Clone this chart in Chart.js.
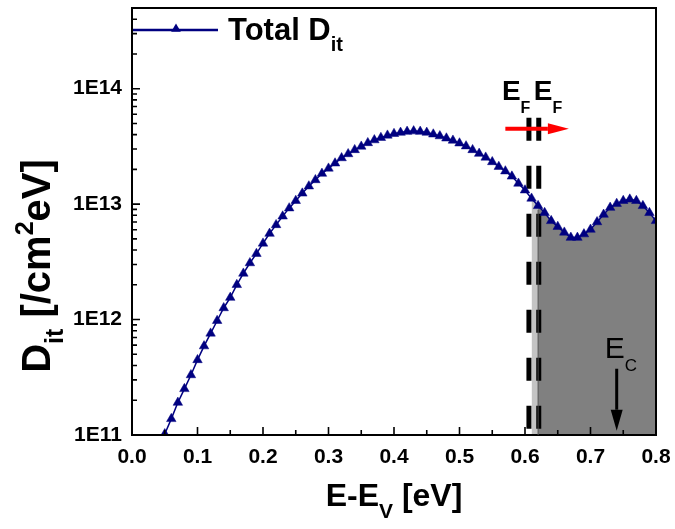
<!DOCTYPE html>
<html>
<head>
<meta charset="utf-8">
<script src="https://cdn.jsdelivr.net/npm/chart.js@4.4.1/dist/chart.umd.min.js"></script>
<style>
  html, body { margin: 0; padding: 0; background: #ffffff; }
  canvas { display: block; }
</style>
</head>
<body>
<canvas id="dit" width="675" height="529"></canvas>
<script>
// Interface trap density versus energy above the valence band edge
const energy = [
  0.04, 0.05, 0.06, 0.07, 0.08, 0.09, 0.10, 0.11, 0.12, 0.13,
  0.14, 0.15, 0.16, 0.17, 0.18, 0.19, 0.20, 0.21, 0.22, 0.23,
  0.24, 0.25, 0.26, 0.27, 0.28, 0.29, 0.30, 0.31, 0.32, 0.33,
  0.34, 0.35, 0.36, 0.37, 0.38, 0.39, 0.40, 0.41, 0.42, 0.43,
  0.44, 0.45, 0.46, 0.47, 0.48, 0.49, 0.50, 0.51, 0.52, 0.53,
  0.54, 0.55, 0.56, 0.57, 0.58, 0.59, 0.60, 0.61, 0.62, 0.63,
  0.64, 0.65, 0.66, 0.67, 0.68, 0.69, 0.70, 0.71, 0.72, 0.73,
  0.74, 0.75, 0.76, 0.77, 0.78, 0.79, 0.80
];
const totalDit = [
  7.6e10, 1.02e11, 1.38e11, 1.91e11, 2.51e11, 3.31e11, 4.47e11, 5.89e11, 7.59e11, 9.77e11,
  1.26e12, 1.55e12, 2.00e12, 2.51e12, 3.09e12, 3.72e12, 4.57e12, 5.56e12, 6.61e12, 7.85e12,
  9.23e12, 1.07e13, 1.24e13, 1.43e13, 1.62e13, 1.84e13, 2.04e13, 2.26e13, 2.51e13, 2.72e13,
  2.95e13, 3.16e13, 3.39e13, 3.59e13, 3.76e13, 3.94e13, 4.07e13, 4.17e13, 4.25e13, 4.29e13,
  4.25e13, 4.17e13, 4.03e13, 3.89e13, 3.72e13, 3.56e13, 3.37e13, 3.18e13, 2.95e13, 2.74e13,
  2.54e13, 2.32e13, 2.11e13, 1.93e13, 1.74e13, 1.51e13, 1.32e13, 1.12e13, 9.66e12, 8.41e12,
  7.16e12, 6.38e12, 5.69e12, 5.13e12, 5.13e12, 5.50e12, 6.03e12, 7.00e12, 8.13e12, 9.33e12,
  1.01e13, 1.07e13, 1.10e13, 1.07e13, 9.66e12, 8.41e12, 7.16e12
];

const xTickValues = [0.0, 0.1, 0.2, 0.3, 0.4, 0.5, 0.6, 0.7, 0.8];
const xMinorTicks = [0.05, 0.15, 0.25, 0.35, 0.45, 0.55, 0.65, 0.75];
const yTickValues = [1e11, 1e12, 1e13, 1e14];
const yMinorMantissas = [2, 3, 4, 5, 6, 7, 8, 9];
const xRange = [0, 0.8];
const yRange = [1e11, 5e14];

// Fermi level positions (dashed markers) and the shaded regions
const fermiLevels = [0.606, 0.621];
const fermiTop = 5.6e13;
const bandBetweenFermi = [0.61, 0.62];
const occupiedFrom = 0.62;
// Arrows: Fermi level shift and conduction band edge
const shiftArrow = { from: 0.570, to: 0.667, level: 4.5e13 };
const conductionBand = { at: 0.74, from: 3.75e11, to: 1.09e11 };

const NAVY = '#000080';
const FONT = '"Liberation Sans", Arial, Helvetica, sans-serif';

const curvePoints = energy.map((e, i) => ({ x: e, y: totalDit[i] }));
const bandPoints = curvePoints.filter(p => p.x >= bandBetweenFermi[0] - 1e-9 && p.x <= bandBetweenFermi[1] + 1e-9);
const occupiedPoints = curvePoints.filter(p => p.x >= occupiedFrom - 1e-9);

const fermiDatasets = fermiLevels.map(e => ({
  label: 'EF',
  data: [{ x: e, y: fermiTop }, { x: e, y: yRange[0] }],
  borderColor: '#000000',
  borderWidth: 5,
  borderDash: [23, 25],
  pointRadius: 0,
  fill: false,
  order: 2
}));

function richText(ctx, parts, x, y, align) {
  let total = 0;
  parts.forEach(p => { ctx.font = p.font; p.w = ctx.measureText(p.t).width; total += p.w; });
  let cx = align === 'center' ? x - total / 2 : x;
  ctx.textAlign = 'left';
  ctx.textBaseline = 'alphabetic';
  parts.forEach(p => { ctx.font = p.font; ctx.fillText(p.t, cx, y + (p.dy || 0)); cx += p.w; });
}

function arrow(ctx, x1, y1, x2, y2, width, headLen, headHalf, color) {
  const ang = Math.atan2(y2 - y1, x2 - x1);
  const bx = x2 - Math.cos(ang) * headLen, by = y2 - Math.sin(ang) * headLen;
  ctx.strokeStyle = color; ctx.fillStyle = color; ctx.lineWidth = width;
  ctx.beginPath(); ctx.moveTo(x1, y1); ctx.lineTo(bx, by); ctx.stroke();
  ctx.beginPath();
  ctx.moveTo(x2, y2);
  ctx.lineTo(bx + Math.sin(ang) * headHalf, by - Math.cos(ang) * headHalf);
  ctx.lineTo(bx - Math.sin(ang) * headHalf, by + Math.cos(ang) * headHalf);
  ctx.closePath(); ctx.fill();
}

const decorations = {
  id: 'decorations',
  afterDatasetsDraw(chart) {
    const ctx = chart.ctx, a = chart.chartArea;
    const xs = chart.scales.x, ys = chart.scales.y;
    ctx.save();
    // frame
    ctx.strokeStyle = '#000'; ctx.lineWidth = 2;
    ctx.strokeRect(a.left, a.top, a.right - a.left, a.bottom - a.top);
    // inward ticks
    ctx.lineWidth = 1.6;
    ctx.beginPath();
    xTickValues.forEach(v => { const px = xs.getPixelForValue(v); ctx.moveTo(px, a.bottom); ctx.lineTo(px, a.bottom - 8); });
    xMinorTicks.forEach(v => { const px = xs.getPixelForValue(v); ctx.moveTo(px, a.bottom); ctx.lineTo(px, a.bottom - 5); });
    yTickValues.forEach(v => {
      const py = ys.getPixelForValue(v); ctx.moveTo(a.left, py); ctx.lineTo(a.left + 8, py);
      yMinorMantissas.forEach(m => {
        const val = v * m;
        if (val <= yRange[1]) { const q = ys.getPixelForValue(val); ctx.moveTo(a.left, q); ctx.lineTo(a.left + 5, q); }
      });
    });
    ctx.stroke();

    // thin edge where the occupied region begins
    const occX = xs.getPixelForValue(occupiedFrom);
    ctx.strokeStyle = '#505050'; ctx.lineWidth = 1;
    ctx.beginPath();
    ctx.moveTo(occX, ys.getPixelForValue(occupiedPoints[0].y) + 4);
    ctx.lineTo(occX, a.bottom);
    ctx.stroke();

    // Fermi level shift arrow
    arrow(ctx, xs.getPixelForValue(shiftArrow.from), ys.getPixelForValue(shiftArrow.level),
          xs.getPixelForValue(shiftArrow.to), ys.getPixelForValue(shiftArrow.level), 4, 21, 5.5, '#ff0000');
    // conduction band arrow
    const cbx = xs.getPixelForValue(conductionBand.at);
    arrow(ctx, cbx, ys.getPixelForValue(conductionBand.from), cbx, ys.getPixelForValue(conductionBand.to), 3, 21, 6, '#000000');

    ctx.fillStyle = '#000';
    // E_F labels above the dashed markers
    const f0 = xs.getPixelForValue(fermiLevels[0]);
    const f1 = xs.getPixelForValue(fermiLevels[1]);
    richText(ctx, [{ t: 'E', font: 'bold 28px ' + FONT }, { t: 'F', font: 'bold 16px ' + FONT, dy: 13 }], f0 - 27, 100, 'left');
    richText(ctx, [{ t: 'E', font: 'bold 28px ' + FONT }, { t: 'F', font: 'bold 16px ' + FONT, dy: 13 }], f1 - 5, 100, 'left');
    // E_C label
    richText(ctx, [{ t: 'E', font: '30px ' + FONT }, { t: 'C', font: '17px ' + FONT, dy: 13 }], cbx - 12, 358, 'left');

    // legend
    const ly = a.top + 22;
    ctx.strokeStyle = NAVY; ctx.lineWidth = 2.5;
    ctx.beginPath(); ctx.moveTo(a.left + 1, ly); ctx.lineTo(a.left + 86, ly); ctx.stroke();
    ctx.fillStyle = NAVY;
    const tx = a.left + 44, r = 5.6;
    ctx.beginPath();
    for (let k = 0; k < 3; k++) {
      const ang = k * 2 * Math.PI / 3;
      const px = tx + Math.sin(ang) * r, py = ly - 1 - Math.cos(ang) * r;
      k === 0 ? ctx.moveTo(px, py) : ctx.lineTo(px, py);
    }
    ctx.closePath(); ctx.fill();
    ctx.fillStyle = '#000';
    richText(ctx, [{ t: 'Total D', font: 'bold 31px ' + FONT }, { t: 'it', font: 'bold 20px ' + FONT, dy: 11 }], a.left + 96, ly + 9.5, 'left');
    ctx.restore();
  },
  afterDraw(chart) {
    const ctx = chart.ctx, a = chart.chartArea;
    ctx.save();
    ctx.fillStyle = '#000';
    // x axis title
    richText(ctx, [
      { t: 'E-E', font: 'bold 32px ' + FONT },
      { t: 'V', font: 'bold 21px ' + FONT, dy: 12 },
      { t: ' [eV]', font: 'bold 32px ' + FONT }
    ], (a.left + a.right) / 2, 506, 'center');
    // y axis title
    ctx.translate(50, 266);
    ctx.rotate(-Math.PI / 2);
    richText(ctx, [
      { t: 'D', font: 'bold 40px ' + FONT },
      { t: 'it', font: 'bold 25px ' + FONT, dy: 13 },
      { t: ' [/cm', font: 'bold 40px ' + FONT },
      { t: '2', font: 'bold 25px ' + FONT, dy: -17 },
      { t: 'eV]', font: 'bold 40px ' + FONT }
    ], 0, 0, 'center');
    ctx.restore();
  }
};

// Keep the plot frame fixed: no extra room reserved for edge tick labels
function noEdgePadding(scale) {
  scale.paddingTop = 0; scale.paddingBottom = 0;
  scale.paddingLeft = 0; scale.paddingRight = 0;
}

new Chart(document.getElementById('dit'), {
  type: 'line',
  data: {
    datasets: [
      {
        label: 'Total Dit',
        data: curvePoints,
        borderColor: NAVY,
        borderWidth: 1.5,
        pointStyle: 'triangle',
        pointRadius: 5.5,
        pointBackgroundColor: NAVY,
        pointBorderColor: NAVY,
        pointBorderWidth: 0.5,
        tension: 0,
        fill: false,
        order: 1
      },
      ...fermiDatasets,
      {
        label: 'between',
        data: bandPoints,
        borderWidth: 0,
        pointRadius: 0,
        backgroundColor: '#c4c4c4',
        fill: 'start',
        order: 4
      },
      {
        label: 'occupied',
        data: occupiedPoints,
        borderWidth: 0,
        pointRadius: 0,
        backgroundColor: '#808080',
        fill: 'start',
        order: 3
      }
    ]
  },
  options: {
    responsive: false,
    animation: false,
    devicePixelRatio: 1,
    layout: { padding: { left: 0, top: 8, right: 19, bottom: 0 } },
    plugins: { legend: { display: false }, tooltip: { enabled: false } },
    scales: {
      x: {
        type: 'linear',
        min: xRange[0], max: xRange[1],
        grid: { display: false, drawTicks: false },
        border: { display: false },
        afterBuildTicks(scale) { scale.ticks = xTickValues.map(v => ({ value: v })); },
        afterFit(scale) { scale.height = 94; noEdgePadding(scale); },
        ticks: {
          autoSkip: false, maxRotation: 0, padding: 10, color: '#000',
          font: { family: FONT, size: 21, weight: 'bold' },
          callback: v => v.toFixed(1)
        }
      },
      y: {
        type: 'logarithmic',
        min: yRange[0], max: yRange[1],
        grid: { display: false, drawTicks: false },
        border: { display: false },
        afterBuildTicks(scale) { scale.ticks = yTickValues.map(v => ({ value: v })); },
        afterFit(scale) { scale.width = 132; noEdgePadding(scale); },
        ticks: {
          autoSkip: false, padding: 10, color: '#000',
          font: { family: FONT, size: 21, weight: 'bold' },
          callback: v => '1E' + Math.round(Math.log10(v))
        }
      }
    }
  },
  plugins: [decorations]
});
</script>
</body>
</html>
